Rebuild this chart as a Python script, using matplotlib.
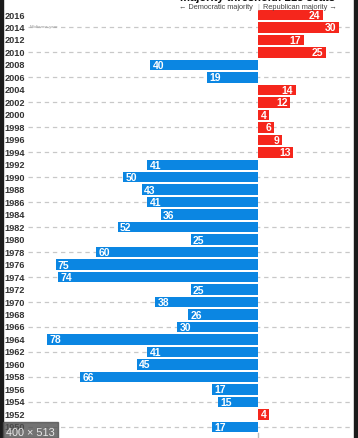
import matplotlib
matplotlib.use("Agg")
import matplotlib.pyplot as plt
from matplotlib.patches import Rectangle

plt.rcParams['font.family'] = ['Liberation Sans', 'DejaVu Sans']

years = [2016, 2014, 2012, 2010, 2008, 2006, 2004, 2002, 2000, 1998, 1996, 1994,
         1992, 1990, 1988, 1986, 1984, 1982, 1980, 1978, 1976, 1974, 1972, 1970,
         1968, 1966, 1964, 1962, 1960, 1958, 1956, 1954, 1952, 1950]
margins = [24, 30, 17, 25, 40, 19, 14, 12, 4, 6, 9, 13,
           41, 50, 43, 41, 36, 52, 25, 60, 75, 74, 25, 38,
           26, 30, 78, 41, 45, 66, 17, 15, 4, 17]
party = ['R', 'R', 'R', 'R', 'D', 'D', 'R', 'R', 'R', 'R', 'R', 'R',
         'D', 'D', 'D', 'D', 'D', 'D', 'D', 'D', 'D', 'D', 'D', 'D',
         'D', 'D', 'D', 'D', 'D', 'D', 'D', 'D', 'R', 'D']
midterm_years = [2014, 2010, 2006, 2002, 1998, 1994, 1990, 1986, 1982, 1978,
                 1974, 1970, 1966, 1962, 1958, 1954, 1950]

title = "majority threshold: 218 seats"
left_label = "\u2190 Democratic majority"
right_label = "Republican majority \u2192"
note = "Midterms year"

BLUE = '#0b86e2'
RED = '#f5261c'

W, H = 358, 439
fig = plt.figure(figsize=(W / 100, H / 100), dpi=100)
ax = fig.add_axes([0, 0, 1, 1])

ppu = 2.7           # pixels per seat
zero_px = 258
row0, step = 16, 12.48
ax.set_xlim(-zero_px / ppu, (W - zero_px) / ppu)
ax.set_ylim((H - row0) / step, -row0 / step)
ax.axis('off')

pos = list(range(len(years)))
signed = [m if p == 'R' else -m for m, p in zip(margins, party)]
colors = [RED if p == 'R' else BLUE for p in party]

# midterm gridlines
for y in midterm_years:
    i = years.index(y)
    ax.plot([(28 - zero_px) / ppu, (352 - zero_px) / ppu], [i, i],
            color='#c8c8c8', lw=0.9, ls=(0, (3.5, 3)), zorder=1)

ax.barh(pos, signed, height=0.84, color=colors, zorder=2)

for i, (v, m) in enumerate(zip(signed, margins)):
    if v > 0:
        ax.text(v - 0.9, i, str(m), color='white', fontsize=7.5, fontweight='bold',
                ha='right', va='center', zorder=3)
    else:
        ax.text(v + 0.9, i, str(m), color='white', fontsize=7.5, fontweight='bold',
                ha='left', va='center', zorder=3)

xl = ax.get_xlim()[0]
for i, y in enumerate(years):
    ax.text(xl + 4.5 / ppu, i, str(y), color='#333333', fontsize=6.6,
            fontweight='bold', ha='left', va='center')

ax.text((30 - zero_px) / ppu, 1 - 0.08, note, color='#9a9a9a', fontsize=3.2,
        ha='left', va='center')

# header
ax.text(0, -1.45, title, color='#111111', fontsize=8, fontweight='bold',
        ha='center', va='center')
ax.text(-5 / ppu, -0.72, left_label, color='#444444', fontsize=5.3,
        ha='right', va='center')
ax.text(5 / ppu, -0.72, right_label, color='#444444', fontsize=5.3,
        ha='left', va='center')
ax.text(0, -0.72, "|", color='#bbbbbb', fontsize=5, ha='center', va='center')
ax.plot([0, 0], [(434 - row0) / step, (H - row0) / step], color='#bbbbbb', lw=1)

# screenshot chrome
fig.patches.append(Rectangle((0, 0), 3 / W, 1, transform=fig.transFigure,
                             color='#1b1b1b', zorder=10))
fig.patches.append(Rectangle((1 - 4 / W, 0), 4 / W, 1, transform=fig.transFigure,
                             color='#1b1b1b', zorder=10))
fig.patches.append(Rectangle((3 / W, 0), 55 / W, 16 / H, transform=fig.transFigure,
                             color='#505050', alpha=0.8, zorder=10))
fig.text(30 / W, 5.5 / H, "400 \u00d7 513", color='#e8e8e8', fontsize=7.8,
         ha='center', va='center', zorder=11)

fig.savefig('out.png', dpi=100)
